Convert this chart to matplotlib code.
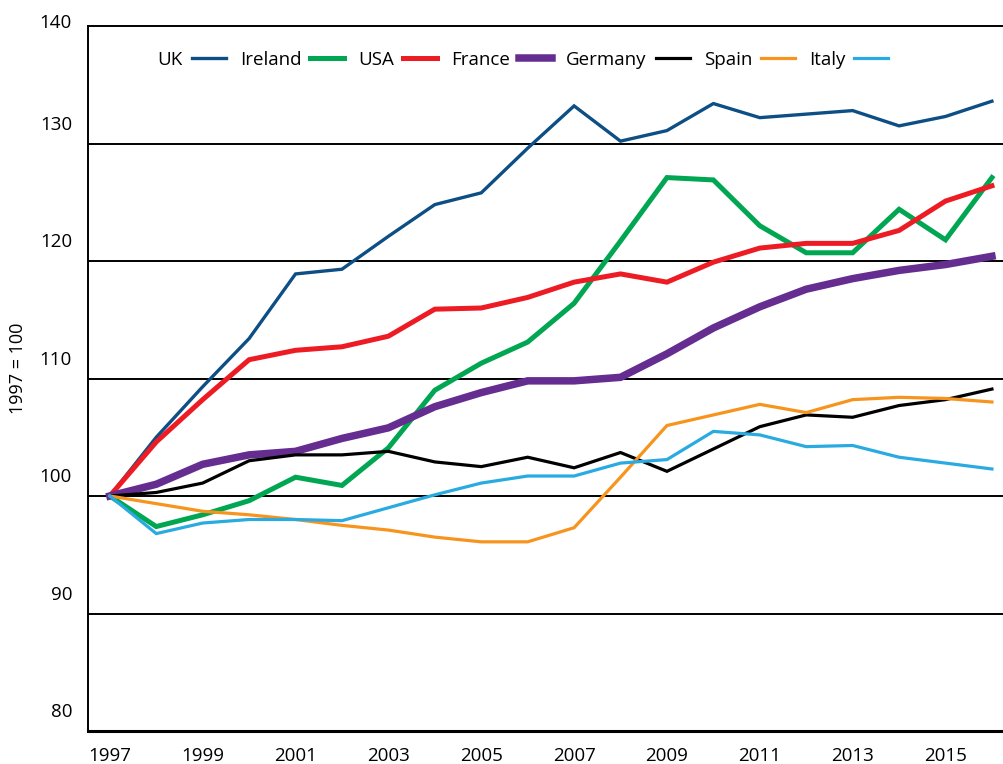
import matplotlib
matplotlib.use("Agg")
import matplotlib.pyplot as plt

plt.rcParams['font.family'] = ['Open Sans', 'DejaVu Sans']

years = list(range(1997, 2017))
year_ticks = list(range(1997, 2016, 2))
y_ticks = [80, 90, 100, 110, 120, 130, 140]

# series in legend order (labels as printed in the legend)
uk = [100, 105.0, 109.3, 113.4, 118.9, 119.3, 122.1, 124.8, 125.8, 129.6,
      133.2, 130.2, 131.1, 133.4, 132.2, 132.5, 132.8, 131.5, 132.3, 133.6]
ireland = [100, 97.4, 98.4, 99.6, 101.6, 100.9, 104.1, 109.0, 111.3, 113.1,
           116.4, 121.7, 127.1, 126.9, 123.0, 120.7, 120.7, 124.4, 121.8, 127.1]
usa = [100, 104.6, 108.2, 111.6, 112.4, 112.7, 113.6, 115.9, 116.0, 116.9,
       118.2, 118.9, 118.2, 119.9, 121.1, 121.5, 121.5, 122.6, 125.1, 126.4]
france = [100, 101.0, 102.7, 103.5, 103.8, 104.9, 105.8, 107.6, 108.8, 109.8,
          109.8, 110.1, 112.1, 114.3, 116.1, 117.6, 118.5, 119.2, 119.7, 120.4]
germany = [100, 100.3, 101.1, 103.0, 103.5, 103.5, 103.8, 102.9, 102.5, 103.3,
           102.4, 103.7, 102.1, 104.0, 105.9, 106.9, 106.7, 107.7, 108.2, 109.1]
spain = [100, 99.35, 98.7, 98.4, 98.0, 97.5, 97.1, 96.5, 96.1, 96.1,
         97.3, 101.6, 106.0, 106.9, 107.8, 107.1, 108.2, 108.4, 108.3, 108.0]
italy = [100, 96.8, 97.7, 98.0, 98.0, 97.9, 99.0, 100.1, 101.1, 101.7,
         101.7, 102.8, 103.1, 105.5, 105.2, 104.2, 104.3, 103.3, 102.8, 102.3]

series = [
    ("UK", uk, "#0d4e85", 2.4),
    ("Ireland", ireland, "#00a651", 3.6),
    ("USA", usa, "#ed1c24", 3.6),
    ("France", france, "#662d91", 5.4),
    ("Germany", germany, "#000000", 2.3),
    ("Spain", spain, "#f7941d", 2.3),
    ("Italy", italy, "#29abe2", 2.3),
]

fig = plt.figure(figsize=(10.04, 7.64), dpi=100)
ax = fig.add_axes([88 / 1004, 1 - 731 / 764, 1 - 88 / 1004, (731 - 26) / 764])

for name, vals, col, lw in series:
    ax.plot(years, vals, color=col, lw=lw, label=name, solid_joinstyle='miter')

ax.set_xlim(1996.53, 2016.26)
ax.set_ylim(80, 140)

# horizontal rules
for v in y_ticks[1:-1]:
    ax.axhline(v, color='black', lw=1.4, zorder=0)

ax.spines['right'].set_visible(False)
ax.spines['top'].set_linewidth(1.4)
ax.spines['left'].set_linewidth(1.4)
ax.spines['bottom'].set_linewidth(2.2)

ax.set_xticks(year_ticks)
ax.set_xticklabels([str(y) for y in year_ticks], fontsize=13.5)
ax.tick_params(axis='x', length=0, pad=11.5)

# y labels sit above their rules
ax.set_yticks([])
for v in y_ticks:
    dy = 2.5 if v == y_ticks[-1] else 13.5
    ax.annotate(str(v), xy=(0, v), xycoords=('axes fraction', 'data'),
                xytext=(-11.5, dy), textcoords='offset points',
                ha='right', va='center', fontsize=13.5, annotation_clip=False)

fig.text(18 / 1004, 1 - 368 / 764, "1997 = 100", rotation=90,
         ha='center', va='center', fontsize=13)

ax.legend(loc='upper left', bbox_to_anchor=(0.076, 0.965), ncol=7,
          frameon=False, markerfirst=False, fontsize=13.5,
          handlelength=1.8, handletextpad=0.48, columnspacing=0.75,
          borderaxespad=0, borderpad=0)

fig.savefig("out.png", dpi=100)
